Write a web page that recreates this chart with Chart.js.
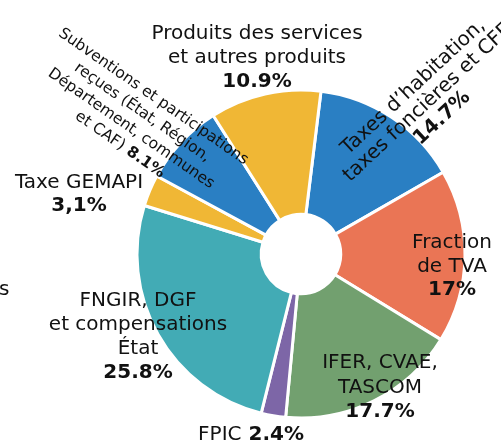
<!DOCTYPE html>
<html lang="fr">
<head>
<meta charset="utf-8">
<title>Recettes</title>
<script src="https://cdn.jsdelivr.net/npm/chart.js@4.4.1/dist/chart.umd.min.js"></script>
<style>
  html, body { margin: 0; padding: 0; background: #fff; }
  #wrap { position: relative; width: 501px; height: 441px; }
</style>
</head>
<body>
<div id="wrap"><canvas id="recettesChart"></canvas></div>
<script>
// slices, clockwise from the top
const categories = [
  ['Taxes d’habitation,', 'taxes foncières et CFE'],
  ['Fraction', 'de TVA'],
  ['IFER, CVAE,', 'TASCOM'],
  ['FPIC'],
  ['FNGIR, DGF', 'et compensations', 'État'],
  ['Taxe GEMAPI'],
  ['Subventions et participations', 'reçues (État, Région,', 'Département, communes', 'et CAF)'],
  ['Produits des services', 'et autres produits']
];
const values = [14.7, 17, 17.7, 2.4, 25.8, 3.1, 8.1, 10.9];
const valueLabels = ['14.7%', '17%', '17.7%', '2.4%', '25.8%', '3,1%', '8.1%', '10.9%'];
const colors = ['#2a7fc3', '#ea7555', '#72a06f', '#7d66a7', '#42abb5', '#f0b735', '#2a7fc3', '#f0b735'];

// where each label goes: x, y = centre of first baseline, angle in degrees
const labelPos = [
  { x: 417, y: 91, angle: -43, size: 20, lh: 21, inline: false },
  { x: 452, y: 248, angle: 0, size: 20, lh: 23.5, inline: false },
  { x: 380, y: 368, angle: 0, size: 20, lh: 24.5, inline: false },
  { x: 251, y: 440, angle: 0, size: 20, lh: 24, inline: true },
  { x: 138, y: 306, angle: 0, size: 20, lh: 24, inline: false },
  { x: 79, y: 188, angle: 0, size: 20, lh: 23, inline: false },
  { x: 151, y: 100, angle: 34.8, size: 15.5, lh: 19.5, inline: true },
  { x: 257, y: 39, angle: 0, size: 20, lh: 24, inline: false }
];
const FONT = '"DejaVu Sans", sans-serif';

const sliceLabels = {
  id: 'sliceLabels',
  afterDraw(chart) {
    const ctx = chart.ctx;
    ctx.save();
    ctx.fillStyle = '#111';
    ctx.textBaseline = 'alphabetic';
    ctx.textAlign = 'left';
    labelPos.forEach((p, i) => {
      const lines = categories[i].map(t => [[t, false]]);
      if (p.inline) {
        lines[lines.length - 1].push([' ' + valueLabels[i], true]);
      } else {
        lines.push([[valueLabels[i], true]]);
      }
      ctx.save();
      ctx.translate(p.x, p.y);
      ctx.rotate(p.angle * Math.PI / 180);
      lines.forEach((segs, k) => {
        let w = 0;
        segs.forEach(s => {
          ctx.font = (s[1] ? 'bold ' : '') + p.size + 'px ' + FONT;
          w += ctx.measureText(s[0]).width;
        });
        let cx = -w / 2;
        segs.forEach(s => {
          ctx.font = (s[1] ? 'bold ' : '') + p.size + 'px ' + FONT;
          ctx.fillText(s[0], cx, k * p.lh);
          cx += ctx.measureText(s[0]).width;
        });
      });
      ctx.restore();
    });
    // cut-off text at the left edge of the original
    ctx.font = '20px ' + FONT;
    ctx.fillText('s', -1, 295);
    ctx.restore();
  }
};

const ctx = document.getElementById('recettesChart').getContext('2d');
const recettesChart = new Chart(ctx, {
  type: 'doughnut',
  data: {
    labels: categories.map(c => c.join(' ')),
    datasets: [{
      data: values,
      backgroundColor: colors,
      borderColor: '#fff',
      borderWidth: 3
    }]
  },
  options: {
    responsive: true,
    maintainAspectRatio: false,
    animation: false,
    rotation: 7,
    radius: 164,
    cutout: 45,
    layout: { padding: { left: 101, top: 67, right: 0, bottom: 0 } },
    plugins: {
      legend: { display: false },
      tooltip: { enabled: false }
    },
    events: []
  },
  plugins: [sliceLabels]
});
</script>
</body>
</html>
